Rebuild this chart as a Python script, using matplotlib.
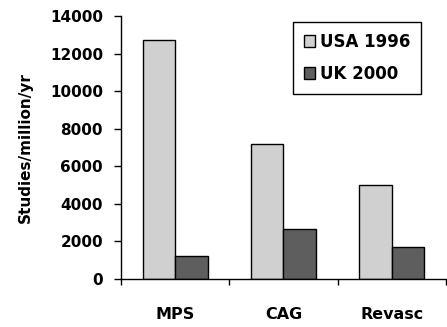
import matplotlib.pyplot as plt
import numpy as np

categories = ['MPS', 'CAG', 'Revasc']
usa_1996 = [12750, 7200, 5000]
uk_2000 = [1200, 2650, 1700]
yticks = [0, 2000, 4000, 6000, 8000, 10000, 12000, 14000]

plt.rcParams['font.family'] = 'DejaVu Sans'
plt.rcParams['font.weight'] = 'bold'

fig = plt.figure(figsize=(4.47, 3.27), dpi=100)
ax = fig.add_axes([0.2707, 0.1468, 0.727, 0.8042])

x = np.arange(len(categories))
w = 0.3
ax.bar(x - w / 2, usa_1996, w, color='#d0d0d0', edgecolor='black', linewidth=1, label='USA 1996')
ax.bar(x + w / 2, uk_2000, w, color='#5e5e5e', edgecolor='black', linewidth=1, label='UK 2000')

ax.set_xlim(-0.5, 2.5)
ax.set_ylim(0, 14000)
ax.set_yticks(yticks)
ax.set_yticklabels([str(v) for v in yticks], fontsize=11, fontweight='bold')
ax.tick_params(axis='y', length=5, width=1, pad=8)

# boundary ticks on the x axis, category names as minor ticks
ax.set_xticks([-0.5, 0.5, 1.5, 2.5])
ax.set_xticklabels([])
ax.tick_params(axis='x', which='major', length=4, width=1)
ax.set_xticks(x, minor=True)
ax.set_xticklabels(categories, minor=True, fontsize=11.5, fontweight='bold')
ax.tick_params(axis='x', which='minor', length=0, pad=20)

for s in ['top', 'right']:
    ax.spines[s].set_visible(False)
ax.spines['left'].set_linewidth(1)
ax.spines['bottom'].set_linewidth(1)

ax.set_ylabel('Studies/million/yr', fontsize=11, fontweight='bold', labelpad=12)

leg = fig.legend(loc='upper left', bbox_to_anchor=(0.655, 0.933), fontsize=12,
                 frameon=True, fancybox=False, edgecolor='black', framealpha=1,
                 handlelength=0.7, handleheight=0.7, handletextpad=0.3,
                 borderpad=0.65, labelspacing=0.85, borderaxespad=0)
leg.get_frame().set_linewidth(1)

fig.savefig('out.png', dpi=100)
